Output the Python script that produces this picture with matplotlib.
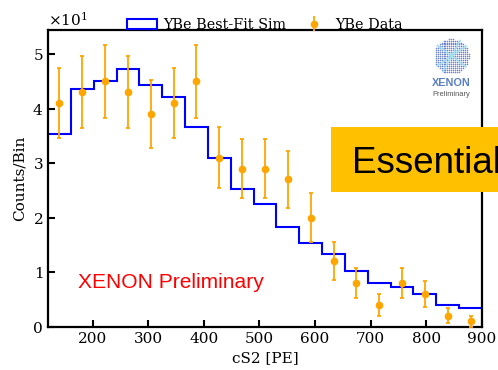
import numpy as np
import matplotlib
matplotlib.use("Agg")
import matplotlib.pyplot as plt
from matplotlib.patches import Patch, Rectangle

plt.rcParams['font.family'] = ['DejaVu Serif']
plt.rcParams['mathtext.fontset'] = 'dejavuserif'

# ---- data ----
bin_lo, bin_hi, n_bins = 120, 900, 19
sim_counts = [35.4, 43.6, 45.0, 47.3, 44.4, 42.1, 36.7, 30.9, 25.3, 22.5,
              18.3, 15.4, 13.3, 10.2, 8.1, 7.3, 6.0, 4.0, 3.4]
data_counts = [41, 43, 45, 43, 39, 41, 45, 31, 29, 29, 27, 20, 12, 8, 4, 8, 6, 2, 1]
data_errors = [6.4, 6.6, 6.7, 6.6, 6.2, 6.4, 6.7, 5.6, 5.4, 5.4, 5.2, 4.5, 3.5,
               2.8, 2.0, 2.8, 2.4, 1.4, 1.0]
x_ticks = [200, 300, 400, 500, 600, 700, 800, 900]
y_ticks = [0, 10, 20, 30, 40, 50]

edges = np.linspace(bin_lo, bin_hi, n_bins + 1)
centers = 0.5 * (edges[:-1] + edges[1:])

fig = plt.figure(figsize=(4.98, 3.70), dpi=100)
ax = fig.add_axes([48/498, 1 - 326.7/370, 434/498, 296.7/370])

ax.stairs(sim_counts, edges, baseline=None, color='blue', lw=1.5, zorder=2)
ax.errorbar(centers, data_counts, yerr=data_errors, fmt='o', color='orange',
            ms=4.5, elinewidth=1.3, capsize=1.7, capthick=1.3, zorder=3)

ax.set_xlim(bin_lo, bin_hi)
ax.set_ylim(0, 54.4)
ax.set_xticks(x_ticks)
ax.set_yticks(y_ticks)
ax.ticklabel_format(axis='y', style='sci', scilimits=(1, 1), useMathText=True)
ax.tick_params(direction='in', length=5, width=1.5, labelsize=11)
ax.yaxis.get_offset_text().set_fontsize(11)
for s in ax.spines.values():
    s.set_linewidth(1.6)

ax.set_xlabel('cS2 [PE]', fontsize=11)
ax.set_ylabel('Counts/Bin', fontsize=11)

handles = [Patch(facecolor='none', edgecolor='blue', lw=1.5),
           ax.errorbar([], [], yerr=[], fmt='o', color='orange', ms=4.5,
                       elinewidth=1.3, capsize=1.7, capthick=1.3)]
ax.legend(handles, ['YBe Best-Fit Sim', 'YBe Data'], loc='lower center',
          bbox_to_anchor=(0.5, 0.975), ncol=2, frameon=False, fontsize=10.4,
          borderaxespad=0, columnspacing=0.9, handletextpad=0.4,
          handlelength=2.1)

ax.text(0.069, 0.13, 'XENON Preliminary', transform=ax.transAxes, color='red',
        fontsize=15.1, family='Liberation Sans', va='baseline')

# XENON logo
lax = fig.add_axes([(451.5 - 19.5)/498, 1 - (56 + 19.5)/370, 39/498, 39/370])
lax.set_axis_off()
g = np.arange(-1, 1.01, 0.11)
gx, gy = np.meshgrid(g, g)
m = gx**2 + gy**2 <= 1.0
lax.scatter(gx[m], gy[m], s=1.3, color='#6f86cf', lw=0)
for a in (0.6, 2.5, 4.2):
    lax.plot([np.cos(a), -np.cos(a)], [np.sin(a), -np.sin(a)], color='#9ee3f5',
             lw=1.3, alpha=0.8)
lax.set_xlim(-1.1, 1.1)
lax.set_ylim(-1.1, 1.1)
lax.set_aspect('equal')
fig.text(451/498, 1 - 83/370, 'XENON', color='#5b7fc4', fontsize=7.8,
         weight='bold', family='Liberation Sans', ha='center', va='center')
fig.text(451/498, 1 - 95/370, 'Preliminary', color='#555555', fontsize=5.4,
         family='Liberation Sans', ha='center', va='center')

# Essential banner
fig.patches.append(Rectangle((331/498, 1 - 191.7/370), 0.5, 64.7/370,
                             transform=fig.transFigure, facecolor='#FFC000',
                             edgecolor='none', zorder=10))
fig.text(351.7/498, 1 - 173.3/370, 'Essential', fontsize=26.5,
         family='Liberation Sans', color='black', va='baseline', zorder=11)

fig.savefig('out.png', dpi=100, facecolor='white')
